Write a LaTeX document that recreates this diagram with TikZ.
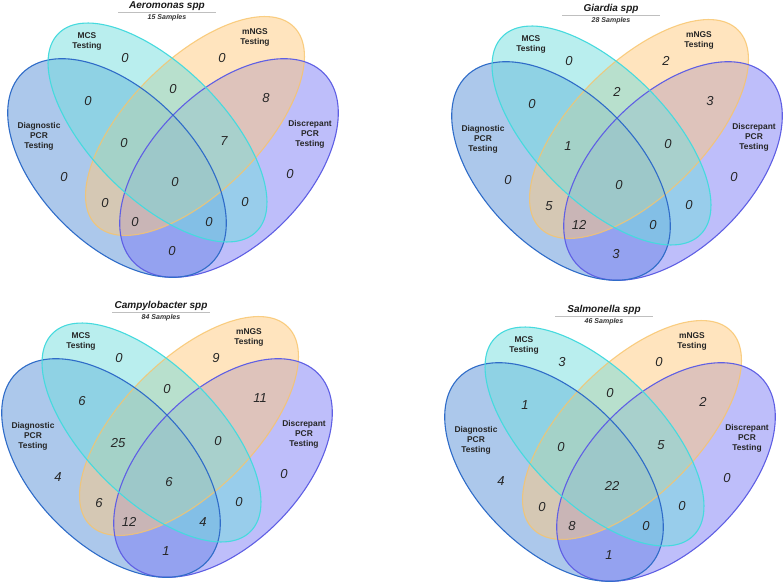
\documentclass[tikz,border=0pt]{standalone}
\usepackage{fontspec}
\setmainfont{Liberation Sans}
\usepackage{tikz}
\definecolor{dpcrblue}{RGB}{89,145,215}
\definecolor{dpcredge}{RGB}{47,108,200}
\definecolor{mcscyan}{RGB}{115,221,221}
\definecolor{mcsedge}{RGB}{70,218,222}
\definecolor{mngsorange}{RGB}{255,201,125}
\definecolor{mngsedge}{RGB}{248,196,106}
\definecolor{discpurple}{RGB}{125,125,245}
\definecolor{discedge}{RGB}{95,95,228}
% one four-set panel: title, sample count, the 15 region counts
\newcommand{\vennpanel}[3]{%
    \fill[dpcrblue, fill opacity=0.5, shift={(117,168)}, rotate=-45] (0,0) ellipse (134 and 77);
    \fill[discpurple, fill opacity=0.5, shift={(229,168)}, rotate=45] (0,0) ellipse (134 and 77);
    \fill[mngsorange, fill opacity=0.5, shift={(195,126)}, rotate=45] (0,0) ellipse (140 and 66);
    \fill[mcscyan, fill opacity=0.5, shift={(157.5,132.5)}, rotate=-45] (0,0) ellipse (140 and 66);
    \draw[setline, mngsedge, draw opacity=0.8, shift={(195,126)}, rotate=45] (0,0) ellipse (140 and 66);
    \draw[setline, discedge, shift={(229,168)}, rotate=45] (0,0) ellipse (134 and 77);
    \draw[setline, dpcredge, shift={(117,168)}, rotate=-45] (0,0) ellipse (134 and 77);
    \draw[setline, mcsedge, shift={(157.5,132.5)}, rotate=-45] (0,0) ellipse (140 and 66);
    \node[settitle] (title) at (167,6) {#1};
    \node[setsub] (samples) at (167,18) {#2};
    \draw[rule] (118,12) -- (216,12);
    \node[setlabel] (mcs) at (87,41) {MCS\\Testing};
    \node[setlabel] (mngs) at (255,37) {mNGS\\Testing};
    \node[setlabel] (dpcr) at (39,136) {Diagnostic\\PCR\\Testing};
    \node[setlabel] (disc) at (310,134) {Discrepant\\PCR\\Testing};
    \foreach \x/\y [count=\i] in {125/58, 222/58, 173/89, 88/101, 266/98,
        124/143, 224/141, 64/177, 290/174, 175/182,
        105/203, 245/202, 135/222, 209/222, 172/251}
        \coordinate (p\i) at (\x,\y);
    \foreach \c [count=\i] in {#3}
        \node[count] (n\i) at (p\i) {\c};
}

\begin{document}
\begin{tikzpicture}[x=1pt, y=-1pt,
    setline/.style={line width=1.1pt},
    settitle/.style={font=\bfseries\itshape\fontsize{10}{12}\selectfont, text=black!90},
    setsub/.style={font=\bfseries\itshape\fontsize{7}{8}\selectfont, text=black!80},
    setlabel/.style={font=\bfseries\fontsize{8.4}{10}\selectfont, align=center, text=black!85},
    count/.style={font=\itshape\fontsize{13}{15}\selectfont, text=black!85},
    rule/.style={draw=black!25, line width=0.8pt}]
    \useasboundingbox (0,0) rectangle (783,585);

    \begin{scope}[name prefix=aero-]
        \vennpanel{Aeromonas spp}{15 Samples}{0,0,0,0,8,0,7,0,0,0,0,0,0,0,0}
    \end{scope}
    \begin{scope}[shift={(444,3)}, name prefix=giar-]
        \vennpanel{Giardia spp}{28 Samples}{0,2,2,0,3,1,0,0,0,0,5,0,12,0,3}
    \end{scope}
    \begin{scope}[shift={(-6,300)}, name prefix=camp-]
        \vennpanel{Campylobacter spp}{84 Samples}{0,9,0,6,11,25,0,4,0,6,6,0,12,4,1}
    \end{scope}
    \begin{scope}[shift={(437,304)}, name prefix=salm-]
        \vennpanel{Salmonella spp}{46 Samples}{3,0,0,1,2,0,5,4,0,22,0,0,8,0,1}
    \end{scope}
\end{tikzpicture}
\end{document}
